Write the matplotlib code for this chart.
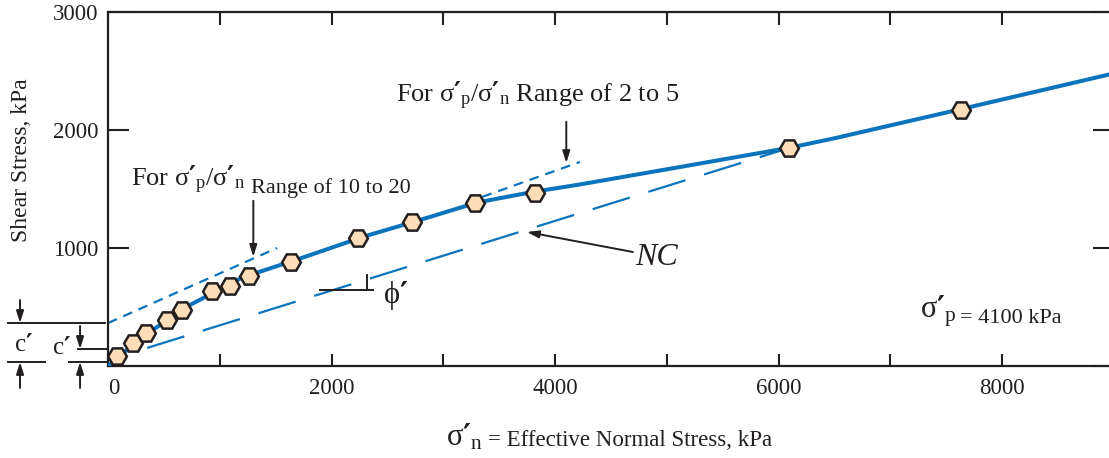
import numpy as np
import matplotlib.pyplot as plt
from matplotlib.transforms import ScaledTranslation

plt.rcParams['font.family'] = 'Liberation Serif'
plt.rcParams['mathtext.fontset'] = 'custom'
plt.rcParams['mathtext.rm'] = 'Liberation Serif'
plt.rcParams['mathtext.it'] = 'Liberation Serif:italic'
plt.rcParams['mathtext.bf'] = 'Liberation Serif:bold'
plt.rcParams['mathtext.sf'] = 'DejaVu Sans:bold'
plt.rcParams['lines.scale_dashes'] = False

INK = '#231f20'
BLUE = '#0b74bd'
PEACH = '#fddcb8'
PR = r"\mathsf{\prime}"   # full size heavy prime, sits high by itself

# test points, kPa
sig_n = [80, 224, 340, 528, 662, 930, 1091, 1261, 1637, 2236, 2719, 3283, 3819, 6091, 7630]
tau = [85, 195, 280, 390, 475, 636, 678, 763, 881, 1085, 1220, 1381, 1466, 1847, 2169]

# failure envelope
env_x = [0, 300, 700, 1200, 1700, 2300, 2800, 3300, 3800, 4200, 5200, 6100, 6500, 7600, 9000]
env_y = [0, 240, 500, 750, 905, 1100, 1240, 1385, 1475, 1535, 1700, 1850, 1930, 2170, 2480]

# straight-line fits
oc20_x = [0, 1512]      # OCR 10 to 20
oc20_y = [364, 1000]
oc5_x = [3350, 4222]    # OCR 2 to 5
oc5_y = [1434, 1729]
nc_x = [350, 6091]      # normally consolidated
nc_y = [153, 1847]

c_hi = 364   # intercept of the OCR 10-20 line
c_lo = 144
c_base = 34

xticks = list(range(0, 9001, 1000))
xlabels = [str(v) if v % 2000 == 0 else '' for v in xticks]
yticks = [0, 1000, 2000, 3000]
ylabels = ['', '1000', '2000', '3000']

fig = plt.figure(figsize=(11.09, 4.58), dpi=100)
ax = fig.add_axes([108/1109, 92/458, 1006/1109, 354/458])
ax.set_xlim(0, 9000)
ax.set_ylim(0, 3000)

ax.plot(oc20_x, oc20_y, color=BLUE, lw=1.6, ls=(0, (7, 5)), zorder=2)
ax.plot(oc5_x, oc5_y, color=BLUE, lw=1.6, ls=(0, (7, 5)), zorder=2)
ax.plot(nc_x, nc_y, color=BLUE, lw=1.6, ls=(0, (28, 14)), zorder=2)
ax.plot(env_x, env_y, color=BLUE, lw=2.9, zorder=3)
ax.plot(sig_n, tau, ls='none', marker='H', ms=13.5, mfc=PEACH, mec=INK, mew=1.8, zorder=4)

ax.set_xticks(xticks)
ax.set_xticklabels(xlabels)
ax.set_yticks(yticks)
ax.set_yticklabels(ylabels)
ax.tick_params(axis='x', direction='in', top=True, length=9, width=1.5, pad=9,
               labelsize=16.5, color=INK, labelcolor=INK)
ax.tick_params(axis='y', direction='in', right=True, length=15, width=1.5, pad=7,
               labelsize=16.5, color=INK, labelcolor=INK)
for s in ax.spines.values():
    s.set_linewidth(1.6)
    s.set_color(INK)
# the "0" sits a little right of the corner in the original
zero = ax.xaxis.get_majorticklabels()[0]
zero.set_transform(zero.get_transform() + ScaledTranslation(0.06, 0, fig.dpi_scale_trans))

arrow = dict(arrowstyle='-|>,head_length=0.7,head_width=0.22', color=INK, lw=1.4,
             shrinkA=0, shrinkB=0)
ax.annotate('', xy=(4100, 1720), xytext=(4100, 2070), arrowprops=arrow)
ax.annotate('', xy=(1300, 925), xytext=(1300, 1400), arrowprops=arrow)
ax.annotate('', xy=(3748, 1136), xytext=(4696, 966), arrowprops=arrow)

ax.text(2576, 2237, r"For $\mathrm{σ}" + PR + r"_\mathrm{p}/\mathrm{σ}" + PR +
        r"_\mathrm{n}$ Range of 2 to 5", fontsize=19, color=INK, va='baseline')
ax.text(206, 1525, r"For $\mathrm{σ}" + PR + r"_\mathrm{p}/\mathrm{σ}" + PR +
        r"_\mathrm{n}$", fontsize=19, color=INK, va='baseline')
ax.text(1280, 1466, 'Range of 10 to 20', fontsize=16, color=INK, va='baseline')
ax.text(4714, 856, 'NC', fontsize=23, style='italic', color=INK, va='baseline')
ax.text(7263, 407, r"$\mathrm{σ}" + PR + r"_\mathrm{p}$", fontsize=22, color=INK,
        va='baseline')
ax.text(7625, 364, '= 4100 kPa', fontsize=16, color=INK, va='baseline')

# slope mark for phi'
ax.plot([1896, 2370], [644, 644], color=INK, lw=1.4)
ax.plot([2317, 2317], [644, 771], color=INK, lw=1.4)
ax.text(2460, 600, r"$\mathrm{ϕ}" + PR + "$", fontsize=22, color=INK, va='center')

# c' dimension marks left of the axis
kw = dict(color=INK, lw=1.4, clip_on=False)
ax.plot([-894, -27], [c_hi, c_hi], **kw)
ax.plot([-894, -563], [c_base, c_base], **kw)
ax.plot([-268, -9], [c_lo, c_lo], **kw)
ax.plot([-349, -9], [c_base, c_base], **kw)
for xa, top in [(-787, c_hi), (-250, c_lo)]:
    ax.annotate('', xy=(xa, top), xytext=(xa, top + 195), arrowprops=arrow,
                annotation_clip=False)
    ax.annotate('', xy=(xa, c_base), xytext=(xa, -186), arrowprops=arrow,
                annotation_clip=False)
ax.text(-760, 175, r"$\mathrm{c}" + PR + "$", fontsize=18, color=INK, ha='center', va='center')
ax.text(-420, 150, r"$\mathrm{c}" + PR + "$", fontsize=18, color=INK, ha='center', va='center')

fig.text(22/1109, 1 - 160/458, 'Shear Stress, kPa', rotation=90, ha='center', va='center',
         fontsize=17, color=INK)
fig.text(446/1109, 1 - 446/458, r"$\mathrm{σ}" + PR + r"_\mathrm{n}$", fontsize=22,
         color=INK, va='baseline')
fig.text(488/1109, 1 - 446/458, '= Effective Normal Stress, kPa', fontsize=16.5, color=INK,
         va='baseline')

fig.savefig('out.png', dpi=100)
